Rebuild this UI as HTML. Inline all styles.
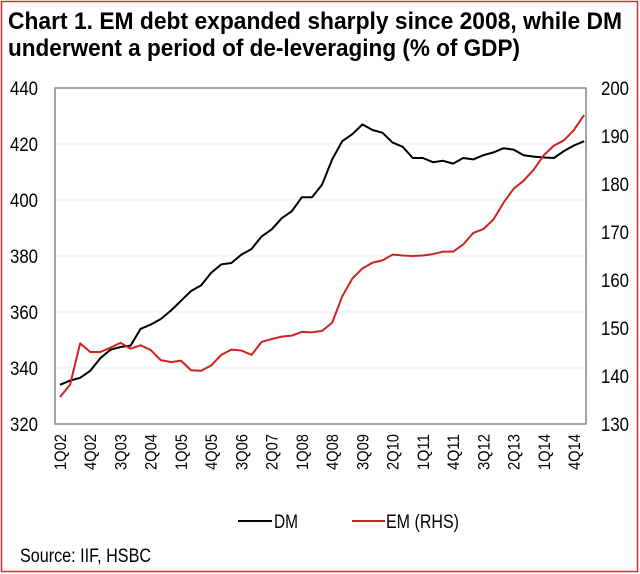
<!DOCTYPE html>
<html><head><meta charset="utf-8"><style>
body{margin:0;background:#fff}
svg{display:block;font-family:"Liberation Sans",sans-serif}
</style></head><body>
<svg id="c" width="640" height="574" viewBox="0 0 640 574">
<rect x="1.5" y="1.5" width="636" height="570" fill="none" stroke="#d03030" stroke-width="1.5"/>
<text x="8" y="29" font-size="24" font-weight="bold" textLength="614" lengthAdjust="spacingAndGlyphs">Chart 1. EM debt expanded sharply since 2008, while DM</text>
<text x="8" y="56" font-size="24" font-weight="bold" textLength="512" lengthAdjust="spacingAndGlyphs">underwent a period of de-leveraging (% of GDP)</text>
<g id="grid"></g><g id="axes"></g><g id="series"></g>
<g>
<line x1="238" y1="521" x2="272" y2="521" stroke="#000" stroke-width="2"/>
<text x="274" y="528" font-size="19" textLength="24" lengthAdjust="spacingAndGlyphs">DM</text>
<line x1="352" y1="521" x2="385" y2="521" stroke="#d02020" stroke-width="2"/>
<text x="386" y="528" font-size="19" textLength="73" lengthAdjust="spacingAndGlyphs">EM (RHS)</text>
</g>
<text x="20" y="562" font-size="19" textLength="131" lengthAdjust="spacingAndGlyphs">Source: IIF,  HSBC</text>
</svg>
<script>
const dmValues=[334,335.5,336.5,339,343.5,346.5,347.5,348,354,355.5,357.5,360.5,364,367.5,369.5,374,377,377.5,380.5,382.5,387,389.5,393.5,396,401,401,405.5,414.5,421,423.5,427,425,424,420.5,419,415,415,413.5,414,413,415,414.5,416,417,418.5,418,416,415.5,415.2,415,417.5,419.5,421];
const emValues=[135.6,138.2,146.8,145,145,145.9,146.9,145.7,146.4,145.4,143.3,142.9,143.2,141.2,141.1,142.2,144.4,145.5,145.3,144.4,147.1,147.7,148.2,148.4,149.2,149.1,149.4,151.1,156.6,160.3,162.4,163.6,164.1,165.3,165.1,165,165.1,165.4,165.9,165.9,167.4,169.8,170.6,172.6,176.1,179,180.7,183,186,188,189.1,191.3,194.4];
const leftTicks=[320,340,360,380,400,420,440];
const rightTicks=[130,140,150,160,170,180,190,200];
const xLabels=["1Q02","4Q02","3Q03","2Q04","1Q05","4Q05","3Q06","2Q07","1Q08","4Q08","3Q09","2Q10","1Q11","4Q11","3Q12","2Q13","1Q14","4Q14"];
const NS='http://www.w3.org/2000/svg';
const L=55,R=586,T=88,B=424;
const x=i=>60+i*10.08;
const yL=v=>B-(v-320)/120*(B-T);
const yR=v=>B-(v-130)/70*(B-T);
function mk(tag,attrs,parent){const e=document.createElementNS(NS,tag);for(const k in attrs)e.setAttribute(k,attrs[k]);parent.appendChild(e);return e;}
const grid=document.getElementById('grid'),axes=document.getElementById('axes'),series=document.getElementById('series');
leftTicks.forEach(v=>{
  if(v>320&&v<440){const g=mk('line',{x1:L,x2:R,y1:yL(v),y2:yL(v),stroke:'#ececec','stroke-width':1},grid);
  
  }
  const t=mk('text',{x:10,y:yL(v)+7,'font-size':19,textLength:28,lengthAdjust:'spacingAndGlyphs'},axes);t.textContent=v;
  
  
});
rightTicks.forEach(v=>{
  const t=mk('text',{x:601,y:yR(v)+7,'font-size':19,textLength:28,lengthAdjust:'spacingAndGlyphs'},axes);t.textContent=v;
  
  
});
const box=mk('rect',{x:L,y:T,width:R-L,height:B-T,fill:'none',stroke:'#888','stroke-width':1.5},axes);


xLabels.forEach((s,k)=>{
  const xx=x(k*3)+6;
  const t=mk('text',{x:0,y:0,'font-size':17,'text-anchor':'end',textLength:36,lengthAdjust:'spacingAndGlyphs',transform:`translate(${xx},434) rotate(-90)`},axes);t.textContent=s;
  
  
});
const dm=mk('polyline',{points:dmValues.map((v,i)=>x(i)+','+yL(v)).join(' '),fill:'none',stroke:'#000','stroke-width':2,'stroke-linejoin':'round'},series);


const em=mk('polyline',{points:emValues.map((v,i)=>x(i)+','+yR(v)).join(' '),fill:'none',stroke:'#d02020','stroke-width':2,'stroke-linejoin':'round'},series);


</script>
</body></html>
